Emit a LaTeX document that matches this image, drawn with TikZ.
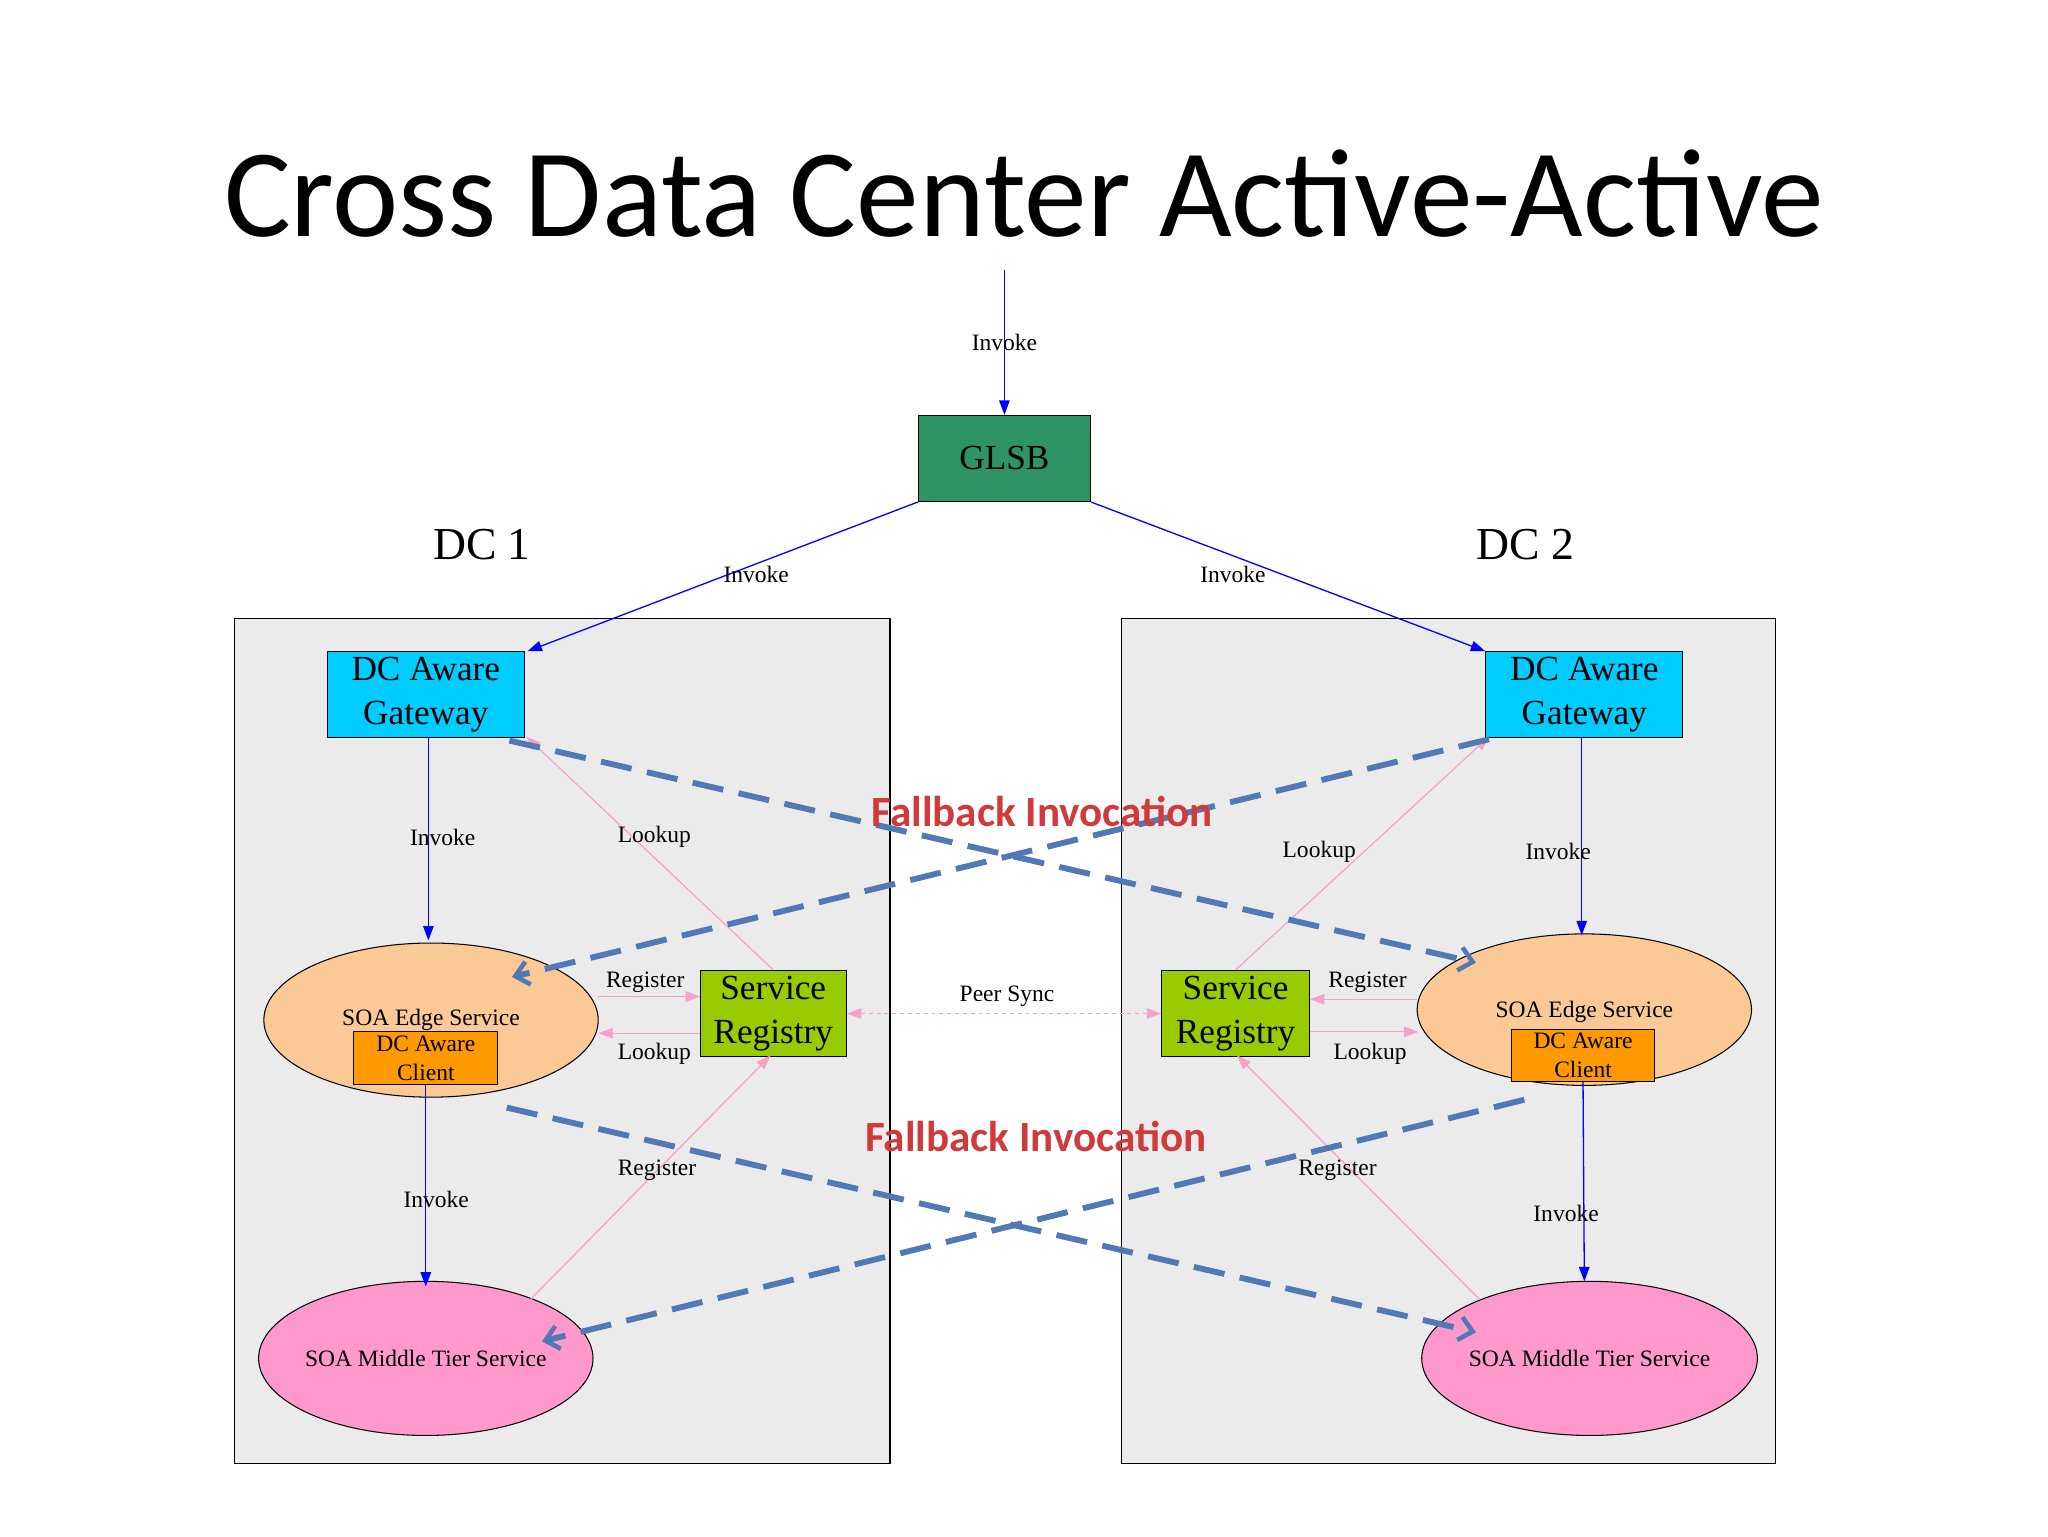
\documentclass[tikz,border=0pt]{standalone}
\usepackage{fontspec}
\setmainfont{Liberation Serif}
\newfontfamily\carlito{Carlito}
\usetikzlibrary{arrows.meta,shapes.geometric,calc}
\definecolor{glsbc}{HTML}{2E9466}
\definecolor{gwc}{HTML}{00CCFF}
\definecolor{edgec}{HTML}{FBC996}
\definecolor{clientc}{HTML}{FF9900}
\definecolor{regc}{HTML}{99CC00}
\definecolor{midc}{HTML}{FF99CC}
\definecolor{dcc}{HTML}{EBEBEB}
\definecolor{pinkl}{HTML}{F7A0CC}
\definecolor{fbc}{HTML}{5079B5}
\definecolor{fbt}{HTML}{D03A3A}
\begin{document}
\begin{tikzpicture}[x=1pt,y=-1pt,
  box/.style={draw=black,line width=0.8pt,inner sep=0pt,font=\fontsize{26}{28}\selectfont,align=center},
  ell/.style={ellipse,draw=black,line width=0.8pt,inner sep=0pt},
  lbl/.style={font=\fontsize{18}{20}\selectfont},
  inv/.style={draw=blue,line width=1pt,-{Triangle[length=11pt,width=8pt]}},
  pk/.style={draw=pinkl,line width=0.9pt,-{Triangle[length=11pt,width=8pt]}},
  fb/.style={draw=fbc,line width=4.5pt,dash pattern=on 24pt off 12pt,-{Straight Barb[length=10pt,width=18pt,line width=3.5pt]}},
  fbl/.style={font=\carlito\bfseries\fontsize{33}{35}\selectfont,text=fbt}]
\useasboundingbox (0,0) rectangle (1568,1176);
\fill[white] (0,0) rectangle (1568,1176);
\node[font=\carlito\fontsize{96}{100}\selectfont] (title) at (784,148) {Cross Data Center Active-Active};
% DC areas
\node[draw=black,fill=dcc,line width=0.8pt,minimum width=502pt,minimum height=647pt,anchor=north west] (dc1) at (179,473) {};
\node[draw=black,fill=dcc,line width=0.8pt,minimum width=501pt,minimum height=647pt,anchor=north west] (dc2) at (858,473) {};
\node[font=\fontsize{35}{37}\selectfont] (dc1l) at (369,417) {DC 1};
\node[font=\fontsize{35}{37}\selectfont] (dc2l) at (1168,417) {DC 2};
% nodes
\coordinate (top) at (769,207);
\node[box,fill=glsbc,minimum width=132pt,minimum height=66pt,font=\fontsize{27}{29}\selectfont] (glsb) at (769,351) {GLSB};
\node[box,fill=gwc,minimum width=151pt,minimum height=66pt,font=\fontsize{27}{34}\selectfont] (gw1) at (326,532) {DC Aware\\Gateway};
\node[box,fill=gwc,minimum width=151pt,minimum height=66pt,font=\fontsize{27}{34}\selectfont] (gw2) at (1213,532) {DC Aware\\Gateway};
\node[box,fill=regc,minimum width=112pt,minimum height=66pt,font=\fontsize{27}{34}\selectfont] (reg1) at (592,776) {Service\\Registry};
\node[box,fill=regc,minimum width=113pt,minimum height=66pt,font=\fontsize{27}{34}\selectfont] (reg2) at (946,776) {Service\\Registry};
\node[ell,fill=edgec,minimum width=256pt,minimum height=118pt] (edge1) at (330,781) {};
\node[lbl] (e1t) at (330,781) {SOA Edge Service};
\node[box,fill=clientc,minimum width=110pt,minimum height=40pt,font=\fontsize{18}{22}\selectfont] (cl1) at (326,810) {DC Aware\\Client};
\node[ell,fill=edgec,minimum width=256pt,minimum height=116pt] (edge2) at (1213,773) {};
\node[lbl] (e2t) at (1213,775) {SOA Edge Service};
\node[box,fill=clientc,minimum width=109pt,minimum height=40pt,font=\fontsize{18}{22}\selectfont] (cl2) at (1212,808) {DC Aware\\Client};
\node[ell,fill=midc,minimum width=256pt,minimum height=118pt] (mid1) at (326,1040) {};
\node[lbl] (m1t) at (326,1040) {SOA Middle Tier Service};
\node[ell,fill=midc,minimum width=257pt,minimum height=118pt] (mid2) at (1217,1040) {};
\node[lbl] (m2t) at (1217,1040) {SOA Middle Tier Service};
% invoke arrows
\draw[inv] (top) -- (glsb.north) node[lbl,pos=0.5] {Invoke};
\draw[inv] (glsb.south west) -- ($(gw1.north east)+(2,0)$);
\node[lbl] at (579,440) {Invoke};
\draw[inv] (glsb.south east) -- (gw2.north west);
\node[lbl] at (944,440) {Invoke};
\draw[inv] (328,564) -- (328,720); \node[lbl] at (339,641) {Invoke};
\draw[inv] (cl1.south) -- (326,985); \node[lbl] at (334,918) {Invoke};
\draw[inv] (1211,564) -- (1211,716); \node[lbl] at (1193,652) {Invoke};
\draw[inv] (cl2.south) -- (1213,981); \node[lbl] at (1199,929) {Invoke};
% pink
\draw[pk] (reg1.north) -- (403,564); \node[lbl] at (501,641) {Lookup};
\draw[pk] (458,763) -- (536,763); \node[lbl] at (494,752) {Register};
\draw[pk] (536,791) -- (458,791); \node[lbl] at (501,807) {Lookup};
\draw[pk] (406,995) -- (590,808); \node[lbl] at (503,896) {Register};
\draw[pk,dashed,{Triangle[length=11pt,width=8pt]}-{Triangle[length=11pt,width=8pt]}] (reg1.east) -- (reg2.west);
\node[lbl] at (771,763) {Peer Sync};
\draw[pk] (reg2.north) -- (1140,564); \node[lbl] at (1010,652) {Lookup};
\draw[pk] (1085,765) -- (1003,765); \node[lbl] at (1047,752) {Register};
\draw[pk] (1003,790) -- (1086,790); \node[lbl] at (1049,807) {Lookup};
\draw[pk] (1133,995) -- (947,808); \node[lbl] at (1024,896) {Register};
% fallback
\draw[fb] (390,567) -- (1130,737);
\draw[fb] (1140,566) -- (392,748);
\draw[fb] (388,848) -- (1130,1020);
\draw[fb] (1167,842) -- (415,1027);
\node[fbl] (fb1) at (798,621) {Fallback Invocation};
\node[fbl] (fb2) at (793,870) {Fallback Invocation};
\end{tikzpicture}
\end{document}
